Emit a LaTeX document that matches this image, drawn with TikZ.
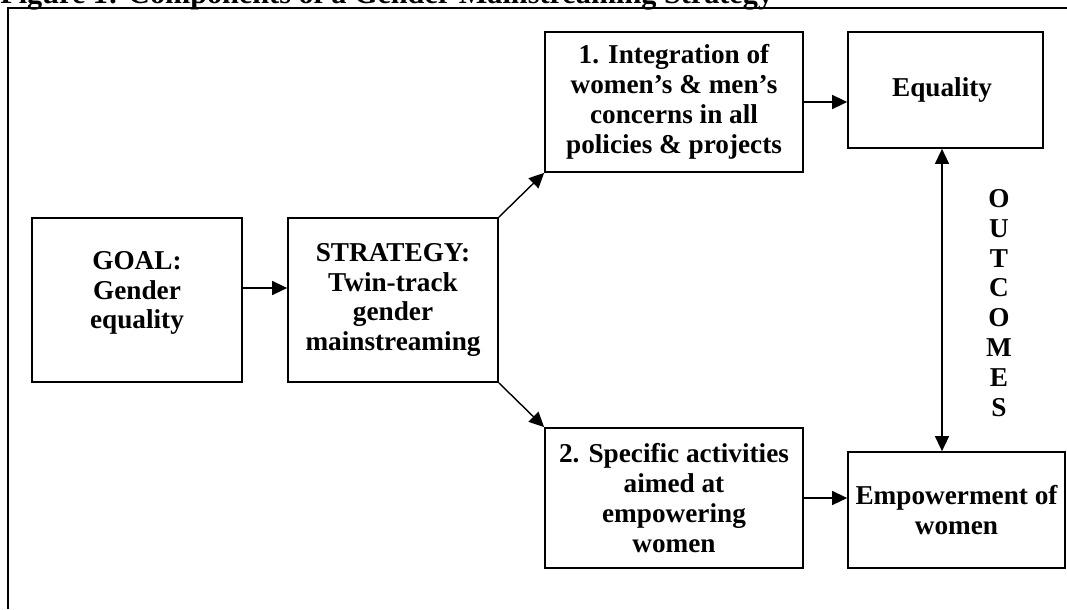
\documentclass[tikz,border=0pt]{standalone}
\usepackage{fontspec}
\setmainfont{Liberation Serif}
\usetikzlibrary{arrows.meta, positioning}

\begin{document}
\begin{tikzpicture}[
    x=0.02cm, y=-0.02cm,
    box/.style={draw, line width=1pt, inner sep=0pt, align=center,
        font=\fontsize{15.5}{17}\selectfont\bfseries},
    link/.style={line width=0.8pt, -{Triangle[length=0.3cm, width=0.28cm]}},
    twoway/.style={line width=0.8pt, {Triangle[length=0.3cm, width=0.28cm]}-{Triangle[length=0.3cm, width=0.28cm]}},
]
    \useasboundingbox (0,0) rectangle (1067,609);

    % Title and frame
    \node[anchor=base west, inner sep=0pt, font=\fontsize{17.2}{19}\selectfont\bfseries] (title) at (0,3)
        {Figure 1: Components of a Gender Mainstreaming Strategy};
    \draw[line width=1pt] (8,609) -- (8,8) -- (1067,8);

    \node[box, minimum width=4.2cm, minimum height=3.28cm] (goal) at (137,300) {
        GOAL:\\Gender\\equality\\[-0.2cm]
    };
    \node[box, minimum width=4.2cm, minimum height=3.28cm] (strategy) at (393,300) {
        STRATEGY:\\Twin-track\\gender\\mainstreaming
    };
    \node[box, minimum width=5.16cm, minimum height=2.8cm] (integration) at (674,102) {
        1. Integration of\\women's \& men's\\concerns in all\\policies \& projects
    };
    \node[box, minimum width=5.16cm, minimum height=2.8cm] (specific) at (674,498) {
        2. Specific activities\\aimed at\\empowering\\women
    };
    \node[box, minimum width=3.9cm, minimum height=2.32cm] (equality) at (945.5,90) {
        Equality
    };
    \node[box, minimum width=4.34cm, minimum height=2.32cm] (empower) at (956.5,510) {
        Empowerment of\\women
    };

    % Arrows
    \draw[link] ([yshift=0.24cm]goal.east) -- ([yshift=0.24cm]strategy.west);
    \draw[link] (strategy.north east) -- (integration.south west);
    \draw[link] (strategy.south east) -- (specific.north west);
    \draw[link] (integration.east) -- (integration.east -| equality.west);
    \draw[link] (specific.east) -- (specific.east -| empower.west);
    \draw[twoway] ([xshift=-0.07cm]equality.south)
        -- ([xshift=-0.07cm]equality.south |- empower.north);

    % Outcomes label
    \node[box, draw=none] (outcomes) at (999,303) {O\\U\\T\\C\\O\\M\\E\\S};
\end{tikzpicture}
\end{document}
